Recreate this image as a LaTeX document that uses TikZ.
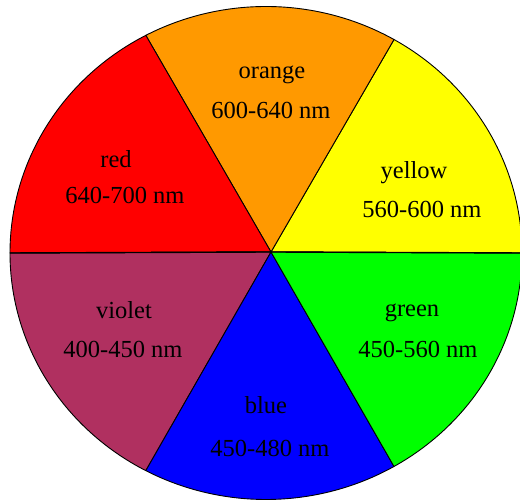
\documentclass[tikz,border=0pt]{standalone}
\usepackage{fontspec}
\setmainfont{Liberation Serif}
\usetikzlibrary{calc}
\definecolor{cred}{HTML}{FF0000}
\definecolor{corange}{HTML}{FF9900}
\definecolor{cyellow}{HTML}{FFFF00}
\definecolor{cgreen}{HTML}{00FF00}
\definecolor{cblue}{HTML}{0000FF}
\definecolor{cviolet}{HTML}{B03060}
\newcommand\colsect[3]{\path[sector, fill=#3] (O) -- ($(C)+(#1:256pt and 246.5pt)$) arc[start angle=#1, end angle=#2, x radius=256pt, y radius=246.5pt] -- cycle;}
\begin{document}
\begin{tikzpicture}[x=1pt,y=1pt,
  sector/.style={draw=black, line width=0.9pt, line join=round},
  lab/.style={font=\fontsize{24.5}{28}\selectfont, inner sep=0pt, text=black}]
\useasboundingbox (0,0) rectangle (520,502);
\clip (0,0) rectangle (520,502);
\fill[white] (0,0) rectangle (520,502);
\coordinate (C) at (266,249);
\coordinate (O) at (271,250);
\colsect{0}{60}{cyellow}
\colsect{60}{118}{corange}
\colsect{118}{180}{cred}
\colsect{180}{242}{cviolet}
\colsect{242}{300}{cblue}
\colsect{300}{360}{cgreen}
\coordinate (L) at ($(C)+(180:256pt and 246.5pt)$);
\coordinate (R) at ($(C)+(0:256pt and 246.5pt)$);
\draw[line width=1.4pt] (L) -- (O) -- (R);
\node[lab] (rn) at (116,343) {red};
\node[lab] (rr) at (125,307) {640-700 nm};
\node[lab] (on) at (272,427) {orange};
\node[lab] (or) at (271,392) {600-640 nm};
\node[lab] (yn) at (414,329) {yellow};
\node[lab] (yr) at (422,293) {560-600 nm};
\node[lab] (vn) at (124,192) {violet};
\node[lab] (vr) at (123,153) {400-450 nm};
\node[lab] (bn) at (266,97) {blue};
\node[lab] (br) at (270,54) {450-480 nm};
\node[lab] (gn) at (412,189) {green};
\node[lab] (gr) at (418,153) {450-560 nm};
\end{tikzpicture}
\end{document}
